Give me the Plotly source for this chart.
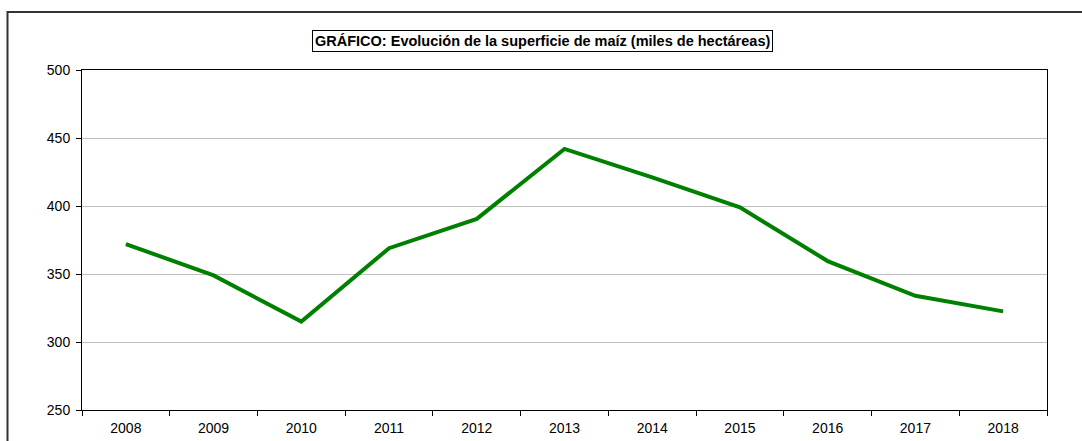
import plotly.graph_objects as go

years = ["2008", "2009", "2010", "2011", "2012", "2013", "2014", "2015", "2016", "2017", "2018"]
superficie = [372, 349, 315, 369, 390.5, 442, 421, 399, 359.5, 334, 322.5]
title_text = "GRÁFICO: Evolución de la superficie de maíz (miles de hectáreas)"

W, H = 1082, 441
# target plot area in window pixels: x 82..1047, y 69.5..410
L, T = 82, 69.5
R = W - 1047
B = H - 410

fig = go.Figure()
fig.add_trace(go.Scatter(
    x=years, y=superficie, mode="lines",
    line=dict(color="#008000", width=4),
    hoverinfo="x+y", showlegend=False,
))

pw = W - L - R
ph = H - T - B


def px_x(x):
    return (x - L) / pw


def px_y(y):
    return (H - B - y) / ph


fig.update_layout(
    width=W, height=H,
    margin=dict(l=L, r=R, t=T, b=B, autoexpand=False),
    paper_bgcolor="white", plot_bgcolor="white",
    font=dict(family="Liberation Sans, Arial, sans-serif", size=14, color="black"),
    xaxis=dict(
        type="category", tickson="boundaries", ticks="outside", ticklen=5,
        tickcolor="black", tickwidth=1, showgrid=False,
        showline=True, linecolor="black", linewidth=1, mirror=True,
        tickfont=dict(size=14), range=[-0.5, 10.5], ticklabelstandoff=5,
    ),
    yaxis=dict(
        range=[250, 500], dtick=50, tick0=250, ticks="outside", ticklen=5,
        tickcolor="black", showgrid=True, gridcolor="#c0c0c0", gridwidth=1,
        showline=True, linecolor="black", linewidth=1, mirror=True,
        tickfont=dict(size=14), zeroline=False, ticklabelstandoff=3,
    ),
    shapes=[dict(
        type="rect", xref="paper", yref="paper",
        x0=px_x(7.5), x1=px_x(1200),
        y0=px_y(600), y1=px_y(11.5),
        line=dict(color="#333333", width=2), fillcolor="rgba(0,0,0,0)", layer="below",
    )],
    annotations=[dict(
        text="<b>" + title_text + "</b>", xref="paper", yref="paper",
        x=px_x(542.5), y=px_y(40), xanchor="center", yanchor="middle",
        showarrow=False, font=dict(size=14.5, color="black"),
        bordercolor="black", borderwidth=1, borderpad=2, bgcolor="white",
    )],
)

fig.write_html(
    "out.html",
    config={"displayModeBar": False},
    post_script="document.body.style.margin='0';document.body.style.overflow='hidden';",
)
